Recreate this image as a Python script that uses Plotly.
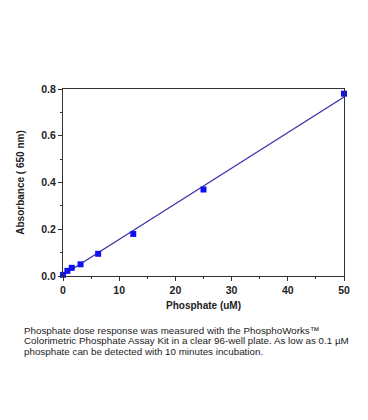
import plotly.graph_objects as go

phosphate = [0, 0.78, 1.56, 3.125, 6.25, 12.5, 25, 50]
absorbance = [0.005, 0.022, 0.035, 0.05, 0.095, 0.18, 0.37, 0.78]
fit_x = [0, 50]
fit_y = [0.004, 0.766]

x_ticks = [0, 10, 20, 30, 40, 50]
y_ticks = [0.0, 0.2, 0.4, 0.6, 0.8]

caption = ["Phosphate dose response was measured with the PhosphoWorks\u2122",
           "Colorimetric Phosphate Assay Kit in a clear 96-well plate. As low as 0.1 \u00b5M",
           "phosphate can be detected with 10 minutes incubation."]

fig = go.Figure()
fig.add_trace(go.Scatter(x=fit_x, y=fit_y, mode="lines",
                         line=dict(color="#3a35a8", width=1.2), showlegend=False))
fig.add_trace(go.Scatter(x=phosphate, y=absorbance, mode="markers",
                         marker=dict(symbol="square", size=6, color="#1010f0"),
                         cliponaxis=False, showlegend=False))

axis_common = dict(showline=True, linecolor="#333", linewidth=1, mirror=True,
                   ticks="outside", ticklen=4, tickcolor="#333", showgrid=False,
                   zeroline=False,
                   tickfont=dict(family="Liberation Sans, Arial", size=10.5, color="#222"))
fig.update_xaxes(range=[0, 50], tickvals=x_ticks, ticktext=[f"<b>{v}</b>" for v in x_ticks],
                 minor=dict(dtick=5, ticks="outside", ticklen=2, tickcolor="#333"),
                 title=dict(text="<b>Phosphate (uM)</b>", font=dict(family="Liberation Sans, Arial", size=10, color="#222"), standoff=7),
                 **axis_common)
fig.update_yaxes(range=[0, 0.8], tickvals=y_ticks, ticktext=[f"<b>{v:.1f}</b>" for v in y_ticks],
                 minor=dict(dtick=0.1, ticks="outside", ticklen=2, tickcolor="#333"),
                 title=dict(text="<b>Absorbance ( 650 nm)</b>", font=dict(family="Liberation Sans, Arial", size=10, color="#222"), standoff=14),
                 **axis_common)

for i, line in enumerate(caption):
    fig.add_annotation(text=line, xref="paper", yref="paper", x=-0.145, y=-0.29 - i * 0.056,
                       xanchor="left", yanchor="middle", showarrow=False,
                       font=dict(family="Liberation Sans, Arial", size=9.8, color="#222"))

fig.update_layout(width=368, height=420, margin=dict(l=52, r=32, t=81, b=152),
                  plot_bgcolor="white", paper_bgcolor="white")
fig.write_html("out.html")
